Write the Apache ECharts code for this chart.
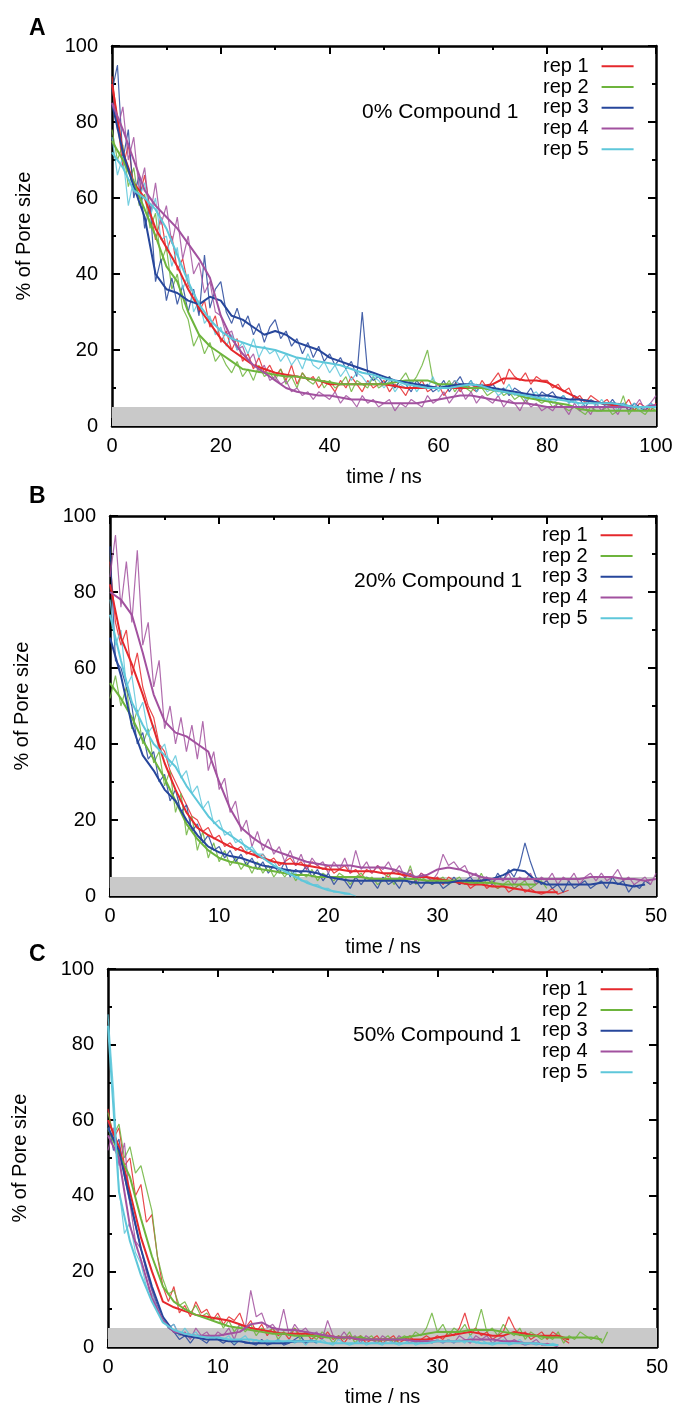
<!DOCTYPE html>
<html>
<head>
<meta charset="utf-8">
<script src="https://cdn.jsdelivr.net/npm/echarts@6/dist/echarts.min.js"></script>
<style>
  html, body { margin: 0; padding: 0; background: #fff; }
  #main { width: 677px; height: 1408px; }
</style>
</head>
<body>
<div id="main"></div>
<script>
// legend names and colours
var repNames = ['rep 1', 'rep 2', 'rep 3', 'rep 4', 'rep 5'];
var repColors = ['#e5282c', '#6db43c', '#26469b', '#a2519f', '#5ec7da'];
var panelTitles = ['0% Compound 1', '20% Compound 1', '50% Compound 1'];
var yTicks = [0, 20, 40, 60, 80, 100];

// ---- panel A: 0% Compound 1, raw every 1 ns, running average every 2 ns ----
var aRawStep = 1, aAvgStep = 2;
var aRaw1 = [92,80,68,74,63,60,66,57,49,55, 46,50,41,44,37,35,30,33,26,29, 22,25,20,23,17,19,15,18,14,16,
  13,15,12,16,11,14,12,13,10,12, 11,9,12,10,13,11,9,12,10,11, 12,9,11,10,8,11,10,12,9,10,
  11,8,10,12,9,11,10,9,12,10, 12,14,11,15,13,12,14,11,13,12, 12,10,11,9,10,7,8,6,8,7, 6,7,5,6,5,7,4,6,5,4,6];
var aRaw2 = [78,70,74,63,68,58,61,52,56,43, 47,36,40,31,28,21,24,19,22,17, 19,16,14,17,13,15,12,16,13,14,
  12,15,11,13,10,14,12,11,13,10, 12,10,11,13,9,12,11,10,13,10, 11,13,10,12,14,11,13,16,20,12,
  11,10,12,9,11,10,9,11,10,8, 9,10,8,9,7,8,6,8,7,6, 7,5,6,5,4,5,4,3,5,4, 4,5,3,4,8,3,5,4,3,5,4];
var aRaw3 = [88,95,70,78,60,66,52,58,38,44, 33,39,32,37,30,36,29,45,31,36, 38,30,27,31,26,29,24,27,22,26,
  28,23,25,21,23,19,22,18,21,17, 19,16,18,15,17,13,30,14,12,13, 11,13,10,12,11,9,12,10,11,9,
  10,12,9,11,13,10,12,9,11,10, 11,9,10,8,10,9,8,10,7,9, 8,9,7,8,6,8,7,5,7,6, 6,5,7,5,6,4,6,5,4,6,5];
var aRaw4 = [90,78,84,70,76,62,68,55,64,53, 58,48,55,44,50,40,43,35,38,30, 29,24,25,20,21,17,19,14,16,12,
  13,11,12,9,10,8,9,7,9,8, 7,9,6,8,7,5,8,6,7,5, 6,7,4,6,5,7,6,5,8,6,
  7,9,6,8,10,7,9,6,8,7, 6,8,5,7,6,4,7,5,6,4, 5,4,6,5,3,6,4,5,3,6, 4,6,5,3,6,4,5,7,4,6,8];
var aRaw5 = [76,66,71,58,65,60,64,55,60,49, 50,42,47,36,40,30,33,27,29,24, 26,21,24,20,22,19,23,18,21,19,
  20,17,19,16,18,15,19,16,15,17, 14,16,13,15,12,14,13,11,13,12, 10,12,9,11,10,12,9,11,10,13,
  9,11,10,12,11,10,12,9,11,9, 10,8,9,11,8,9,7,8,9,7, 8,6,7,8,6,7,5,6,7,5, 7,5,6,4,6,5,6,4,5,6,5];
var aAvg1 = [90,72,64,60,52,47,42,36,31,27,23,20,18,16,15,14,13.5,13,12.5,12,11,11,11,11,11,
  11,10.5,10,10,10,10,10,10,10,10.5,11,12.5,12.5,12,12,11.5,10,8.5,7,6.5,6,5.5,5,5,5,5];
var aAvg2 = [75,70,64,57,50,42,38,30,24,21,19,17,15,14.5,14,13.5,13,13,12.5,12,11.5,11,11,11,11,
  11,11.5,12,12,12,11,11,10.5,10,10,9.5,9,8.5,7.5,7,6.5,6,5.5,4.5,4,4,4,4,4,4,4];
var aAvg3 = [85,72,63,55,40,36,35,33,32,34,33,29,28,26,24,25,24,22,21,20,18,17,16,15,14,
  13,12,11.5,11,10.5,10,10.5,11,11,10.5,10,9.5,9,8.5,8,8,7.5,7,7,6.5,6,6,5.5,5,5,5];
var aAvg4 = [85,78,70,62,58,55,52,48,44,39,29,23,19,16,14,12,10,9,8.5,8,8,7.5,7,7,6.5,
  6,6,6,6,6.5,7,7.5,8,8,7.5,7,6.5,6,6,5.5,5,5,5,5,5,5,5,5,5,5,5.5];
var aAvg5 = [72,68,62,60,57,52,45,38,32,28,25,23,22,21,20.5,20,19,18,17.5,17,16.5,16,15,14,13.5,
  12.5,12,11,10.5,10,10,10,10.5,11,10.5,9.5,9,8.5,8,7.5,7,7,6.5,6,6,6,6,5.5,5,5,5];

// ---- panel B: 20% Compound 1, raw every 0.5 ns, running average every 1 ns ----
var bRawStep = 0.5, bAvgStep = 1;
var bRaw1 = [88,72,66,70,58,64,55,50,47,40, 38,33,30,27,24,21,20,17,18,15, 16,13,14,12,13,11,12,10,11,9,
  10,8,9,10,8,9,7,9,8,7, 8,6,7,8,6,7,5,7,6,8, 6,5,7,6,5,6,4,6,5,4,
  5,3,5,4,3,4,2,3,4,2, 3,2,3,1,2,3,1,2,1,0.5, 1,2,0.5,1,1.5];
var bRaw2 = [52,58,50,55,44,49,40,44,35,38, 29,33,22,27,16,21,12,17,10,14, 9,12,8,10,7,9,6,9,6,8,
  5,7,5,7,4,6,5,7,4,6, 5,4,6,5,3,5,6,4,5,3, 4,6,3,5,4,8,3,5,4,3,
  4,5,3,4,5,3,4,3,6,3, 4,2,3,4,2,3,4,2,3,4, 2];
var bRaw3 = [92,62,60,55,50,40,43,36,38,30, 32,25,28,22,24,17,19,14,16,12, 13,10,12,9,11,8,10,7,9,6,
  8,6,9,5,7,6,8,5,7,4, 6,3,5,4,2,5,3,5,4,2, 5,3,4,2,5,3,4,2,4,3,
  4,2,3,5,3,4,5,3,4,5, 3,6,4,7,5,8,14,9,5,3, 4,2,3,1,4,2,3,4,2,3, 4,2,5,3,4,1,3,2,4,3];
var bRaw4 = [84,95,76,88,72,91,66,72,55,62, 44,50,40,47,38,45,36,46,33,38, 28,31,22,25,17,20,13,17,12,15,
  11,13,9,12,8,11,7,10,8,9, 6,9,7,10,6,12,7,9,6,8, 7,9,6,8,5,7,4,6,5,4,
  6,11,8,9,7,8,5,6,4,5, 3,5,4,6,3,5,4,6,3,5, 4,6,3,5,4,6,3,5,6,4, 6,4,5,7,4,5,3,4,5,3, 6];
var bRaw5 = [78,66,70,55,58,48,51,43,45,38, 40,34,37,31,33,27,29,23,25,19, 20,16,17,14,15,12,13,11,11,9,
  9,7,7,6,6,4,4,3,3,2, 2,1,1,0.5,0.5,0];
var bAvg1 = [82,68,61,53,44,35,28,22,18,16,14.5,13,12,11,10,9,8.5,8.5,8,7.5,7,7,6.5,6.5,6.5,
  6,6,5.5,5,5,4.5,4,3.5,3,3,2.5,2.5,2,1.5,1,1,1];
var bAvg2 = [56,52,47,41,36,31,25,19,15,12,10,9,8.5,7.5,7,6.5,6,5.5,5.5,5,5,5,5,5,4.5,
  4.5,4.5,4.5,4.5,4,4,4,4,3.5,3.5,3.5,3,3,3,3];
var bAvg3 = [68,58,45,37,33,28,25,20,16,13,11.5,10.5,10,9,8,7.5,7,6.5,6.5,6,5,4.5,4,4,4,
  4,4,4,3.5,3.5,3.5,3.5,4,4,4,4.5,5.5,7,6.5,4,3,3,3,3,3,3.5,3.5,3,2.5,3];
var bAvg4 = [80,78,74,64,53,46,43,42,40,38,30,23,18,15.5,13.5,12,11,10,9,8.5,8,8,8,7.5,7.5,
  7.5,7,6,5,5.5,7,7.5,7,6,5,4.5,4.5,4.5,4.5,4.5,4.5,4.5,4.5,4.5,5,5,5,4.5,4.5,4,4.5];
var bAvg5 = [74,62,51,45,40,37,34,29,25,21,18,16,14,12,10,8,6.5,5,3.5,2.5,1.5,1,0.5];

// ---- panel C: 50% Compound 1, raw every 0.5 ns, running average every 1 ns ----
var cRawStep = 0.5, cAvgStep = 1;
var cRaw1 = [63,55,58,48,50,40,43,33,35,24, 16,12,16,9,11,8,12,9,10,7, 9,6,8,7,9,5,7,4,6,3,
  5,3,4,2,5,3,4,2,3,2, 4,2,3,1,3,2,3,1,2,3, 1,2,3,1,2,3,1,2,3,2,
  3,2,4,3,5,9,4,5,3,4, 2,3,4,8,5,3,4,2,3,4, 2,4,3,2,1];
var cRaw2 = [62,56,59,50,53,46,48,42,36,24, 18,14,15,11,12,9,11,8,9,7, 8,5,7,4,6,4,6,3,5,4,
  5,2,4,3,5,2,4,3,2,4, 3,1,3,2,4,1,3,2,3,1, 2,3,1,2,3,2,4,3,5,9,
  4,6,3,5,4,6,3,5,10,4, 5,3,6,4,3,5,2,4,3,2, 3,2,4,1,3,2,4,3,2,3, 1,4];
var cRaw3 = [60,52,55,45,38,32,26,20,15,11, 8,5,4,2,3,1,3,2,1,3, 2,1,2,0.5,2,1,1,0.5,2,0.5,
  1,2,0.5,1,2,3,1,2,1];
var cRaw4 = [52,58,48,54,38,28,26,20,15,10, 8,5,6,3,4,2,5,3,4,2, 4,3,5,2,6,5,15,8,9,5,
  6,4,10,3,6,4,5,3,4,2, 7,3,2,4,2,3,1,3,2,1, 3,2,1,3,2,1,2,1,2,1,
  2,1,2,1,3,2,1,3,2,3, 1,2,3,1,2,1,0.5,1,2,0.5, 1,0.5,0];
var cRaw5 = [88,68,42,30,33,25,22,16,14,10, 8,5,6,3,5,3,4,2,3,2, 3,2,3,1,2,3,1,2,1,2,
  1,2,1,2,1,2,0.5,2,1,2, 1,0.5,2,1,0.5,1,2,0.5,1,1, 0.5,2,1,0.5,1,2,0.5,1,2,1,
  2,1,2,1,2,1,3,1,2,1, 0.5,1,2,0.5,1,2,0.5,1,0.5,1, 0.5,1,0.5];
var cAvg1 = [60,53,41,29,20,12,10.5,9.5,8.5,8,7.5,7,6,5,4.5,4,3.5,3.5,3.5,3,3,2.5,2.5,2,2,
  2,2,2,2,2,2.5,3,3.5,4,3.5,3,3,4,3.5,3,3,3,2];
var cAvg2 = [58,51,45,34,24,16,12,10,8.5,7.5,6.5,5.5,5,4.5,4,3.5,3.5,3,3,3,2.5,2.5,2.5,2.5,2,
  2,2,2.5,3,3.5,4,4,4,4.5,4.5,4.5,4,3.5,3,3,2.5,2.5,2.5,2.5,2.5,2];
var cAvg3 = [58,52,39,26,16,8,4,3,2.5,2,2,1.5,1.5,1,1,1,1,1.5,1.5,1.5];
var cAvg4 = [56,50,32,23,13,7,4,3.5,3,3,3,3.5,4,6,6.5,5,4.5,4.5,4,3.5,3,2.5,2.5,2,2,
  2,2,2,1.5,1.5,1.5,1.5,1.5,2,2,2,1.5,1.5,1,1,0.5,0.5];
var cAvg5 = [85,41,28,19,12,6.5,4.5,3.5,3,2.5,2.5,2,2,2,1.5,1.5,1.5,1.5,1.5,1.5,
  1,1,1,1,1,1,1,1,1,1,1.5,1.5,1.5,1.5,1,1,1,1,1,1,0.5,0.5];

var FONT = '"Liberation Sans", Arial, sans-serif';

var panels = [
  { letter: 'A', xMax: 100, xInterval: 20, rawStep: aRawStep, avgStep: aAvgStep,
    raw: [aRaw1, aRaw2, aRaw3, aRaw4, aRaw5], avg: [aAvg1, aAvg2, aAvg3, aAvg4, aAvg5],
    left: 112, width: 544, top: 46, height: 380, nameGap: 41, legendTop: 51, legendLeft: 538, labelTop: 97, labelLeft: 357, letterTop: 12 },
  { letter: 'B', xMax: 50, xInterval: 10, rawStep: bRawStep, avgStep: bAvgStep,
    raw: [bRaw1, bRaw2, bRaw3, bRaw4, bRaw5], avg: [bAvg1, bAvg2, bAvg3, bAvg4, bAvg5],
    left: 110, width: 546, top: 516, height: 380, nameGap: 41, legendTop: 520, legendLeft: 537, labelTop: 566, labelLeft: 349, letterTop: 480 },
  { letter: 'C', xMax: 50, xInterval: 10, rawStep: cRawStep, avgStep: cAvgStep,
    raw: [cRaw1, cRaw2, cRaw3, cRaw4, cRaw5], avg: [cAvg1, cAvg2, cAvg3, cAvg4, cAvg5],
    left: 108, width: 549, top: 969, height: 378, nameGap: 40, legendTop: 974, legendLeft: 537, labelTop: 1020, labelLeft: 348, letterTop: 938 }
];

function toPoints(values, step) {
  return values.map(function (v, i) { return [i * step, v]; });
}

var grids = [], xAxes = [], yAxes = [], series = [], legends = [], titles = [];

panels.forEach(function (p, k) {
  grids.push({ left: p.left, top: p.top, width: p.width, height: p.height, containLabel: false });

  var tick = { show: true, inside: true, length: 8, lineStyle: { color: '#000', width: 2 } };
  var minor = { show: true, splitNumber: 2, length: 4, lineStyle: { color: '#000', width: 2 } };
  var line = { show: true, onZero: false, lineStyle: { color: '#000', width: 2.5 } };

  xAxes.push({
    type: 'value', gridIndex: k, min: 0, max: p.xMax, interval: p.xInterval, position: 'bottom',
    axisLine: line, axisTick: tick, minorTick: minor, splitLine: { show: false },
    axisLabel: { margin: 10, fontSize: 20, color: '#000', fontFamily: FONT },
    name: 'time / ns', nameLocation: 'middle', nameGap: p.nameGap,
    nameTextStyle: { fontSize: 20, color: '#000', fontFamily: FONT }
  });
  xAxes.push({
    type: 'value', gridIndex: k, min: 0, max: p.xMax, interval: p.xInterval, position: 'top',
    axisLine: line, axisTick: tick, minorTick: minor, splitLine: { show: false },
    axisLabel: { show: false }
  });
  yAxes.push({
    type: 'value', gridIndex: k, min: yTicks[0], max: yTicks[yTicks.length - 1], interval: 20, position: 'left',
    axisLine: line, axisTick: tick, minorTick: minor, splitLine: { show: false },
    axisLabel: { margin: 14, fontSize: 20, color: '#000', fontFamily: FONT },
    name: '% of Pore size', nameLocation: 'middle', nameGap: 78,
    nameTextStyle: { fontSize: 20, color: '#000', fontFamily: FONT }
  });
  yAxes.push({
    type: 'value', gridIndex: k, min: yTicks[0], max: yTicks[yTicks.length - 1], interval: 20, position: 'right',
    axisLine: line, axisTick: tick, minorTick: minor, splitLine: { show: false },
    axisLabel: { show: false }
  });

  // grey band below 5 %
  series.push({
    type: 'line', name: 'band' + k, xAxisIndex: 2 * k, yAxisIndex: 2 * k, data: [], z: 1, silent: true,
    markArea: { silent: true, itemStyle: { color: '#c9c9c9', opacity: 1 }, data: [[{ yAxis: 0 }, { yAxis: 5 }]] }
  });

  p.raw.forEach(function (vals, r) {
    series.push({
      type: 'line', name: repNames[r] + ' raw', xAxisIndex: 2 * k, yAxisIndex: 2 * k,
      data: toPoints(vals, p.rawStep), showSymbol: false, z: 2, silent: true,
      color: repColors[r], lineStyle: { width: 1.2, opacity: 0.85 }
    });
  });
  p.avg.forEach(function (vals, r) {
    series.push({
      type: 'line', name: repNames[r], xAxisIndex: 2 * k, yAxisIndex: 2 * k,
      data: toPoints(vals, p.avgStep), showSymbol: false, z: 3, silent: true,
      color: repColors[r], lineStyle: { width: 2 }
    });
  });

  legends.push({
    data: repNames, orient: 'vertical', align: 'right', left: p.legendLeft, top: p.legendTop,
    icon: 'rect', itemWidth: 32, itemHeight: 2, itemGap: 0, selectedMode: false,
    textStyle: { fontSize: 20, color: '#000', fontFamily: FONT, lineHeight: 20.7, padding: [0, 8, 0, 0] }
  });

  titles.push({ text: p.letter, left: 24, top: p.letterTop,
    textStyle: { fontSize: 23, fontWeight: 'bold', color: '#000', fontFamily: FONT } });
  titles.push({ text: panelTitles[k], left: p.labelLeft, top: p.labelTop,
    textStyle: { fontSize: 21, fontWeight: 'normal', color: '#000', fontFamily: FONT } });
});

var chart = echarts.init(document.getElementById('main'));
chart.setOption({
  animation: false,
  backgroundColor: '#fff',
  title: titles,
  legend: legends,
  grid: grids,
  xAxis: xAxes,
  yAxis: yAxes,
  series: series
});
</script>
</body>
</html>
